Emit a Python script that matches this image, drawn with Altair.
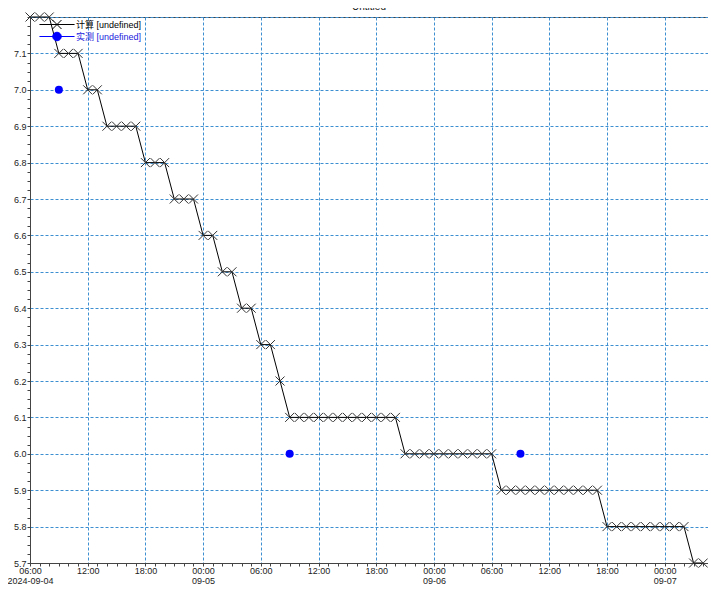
import altair as alt
import pandas as pd

# ---- data -------------------------------------------------------------
calc_name = "计算 [undefined]"
meas_name = "实测 [undefined]"

calc_times = [t.strftime("%Y-%m-%d %H:%M")
              for t in pd.date_range("2024-09-04 06:00", "2024-09-07 04:00", freq="h")]
calc_values = [
    7.2, 7.2, 7.2,
    7.1, 7.1, 7.1,
    7.0, 7.0,
    6.9, 6.9, 6.9, 6.9,
    6.8, 6.8, 6.8,
    6.7, 6.7, 6.7,
    6.6, 6.6,
    6.5, 6.5,
    6.4, 6.4,
    6.3, 6.3,
    6.2,
    6.1, 6.1, 6.1, 6.1, 6.1, 6.1, 6.1, 6.1, 6.1, 6.1, 6.1, 6.1,
    6.0, 6.0, 6.0, 6.0, 6.0, 6.0, 6.0, 6.0, 6.0, 6.0,
    5.9, 5.9, 5.9, 5.9, 5.9, 5.9, 5.9, 5.9, 5.9, 5.9, 5.9,
    5.8, 5.8, 5.8, 5.8, 5.8, 5.8, 5.8, 5.8, 5.8,
    5.7, 5.7,
]
meas_times = ["2024-09-04 09:00", "2024-09-05 09:00", "2024-09-06 09:00"]
meas_values = [7.0, 6.0, 6.0]

x_start, x_end = "2024-09-04 06:00", "2024-09-07 04:30"
y_tick_values = [round(5.7 + 0.025 * i, 3) for i in range(61)]

# time axis expressed as hours since 2024-09-04 00:00
ORIGIN = pd.Timestamp("2024-09-04 00:00")
def hours(ts):
    return (pd.Timestamp(ts) - ORIGIN) / pd.Timedelta(hours=1)

calc_df = pd.DataFrame({"h": [hours(t) for t in calc_times], "value": calc_values,
                        "series": calc_name})
meas_df = pd.DataFrame({"h": [hours(t) for t in meas_times], "value": meas_values,
                        "series": meas_name})
x_tick_values = list(range(int(hours(x_start)), int(hours(x_end)) + 1))

FONT = "Liberation Sans, Arial, Noto Sans CJK SC"
GRID = "#3d8fd1"
AXIS = "#444444"

x_scale = alt.Scale(domain=[hours(x_start), hours(x_end)], nice=False, zero=False)
y_scale = alt.Scale(domain=[5.7, 7.2], nice=False, zero=False)

hh = "(datum.value % 24 < 10 ? '0' : '') + (datum.value % 24) + ':00'"
dd = "'09-0' + (4 + floor(datum.value / 24))"
x_label_expr = (
    f"datum.value % 6 != 0 ? '' : "
    f"(datum.value == 6 ? [{hh}, '2024-09-04'] : "
    f"(datum.value % 24 == 0 ? [{hh}, {dd}] : {hh}))"
)
x_axis = alt.Axis(
    title=None,
    values=x_tick_values,
    labelExpr=x_label_expr,
    labelOverlap=False,
    labelFlush=False,
    labelFont=FONT,
    labelFontSize=9,
    labelColor="#222222",
    labelPadding=0,
    labelLineHeight=10,
    tickSize=3,
    tickColor=AXIS,
    domainColor=AXIS,
    grid=True,
    gridColor=GRID,
    gridDash=[3, 2],
    gridWidth=1,
    gridOpacity={"condition": {"test": "datum.value % 6 == 0", "value": 1}, "value": 0},
)

y_major_test = "abs(datum.value * 10 - round(datum.value * 10)) < 0.01"
y_axis = alt.Axis(
    title=None,
    values=y_tick_values,
    labelExpr=f"({y_major_test}) && datum.value < 7.15 ? format(datum.value, '.1f') : ''",
    labelOverlap=False,
    labelFlush=False,
    labelFont=FONT,
    labelFontSize=9,
    labelColor="#222222",
    labelPadding=1,
    tickSize=3,
    tickColor=AXIS,
    domainColor=AXIS,
    grid=True,
    gridColor=GRID,
    gridDash=[3, 2],
    gridWidth=1,
    gridOpacity={"condition": {"test": y_major_test, "value": 1}, "value": 0},
)

X_PATH = "M-1,-1L1,1M-1,1L1,-1"
LEG1_PATH = "M-3.9,0H3.9M-1,-1L1,1M-1,1L1,-1"
LEG2_PATH = "M-3.9,0H3.9M0.95,0A0.95,0.95 0 1,1 -0.95,0A0.95,0.95 0 1,1 0.95,0Z"

x_enc = alt.X("h:Q", scale=x_scale, axis=x_axis)
y_enc = alt.Y("value:Q", scale=y_scale, axis=y_axis)

line = alt.Chart(calc_df).mark_line(strokeWidth=1, clip=False).encode(
    x=x_enc,
    y=y_enc,
    stroke=alt.Stroke(
        "series:N",
        scale=alt.Scale(domain=[calc_name], range=["#000000"]),
        legend=alt.Legend(
            title=None, orient="none", legendX=22, legendY=2.5, padding=0,
            symbolType=LEG1_PATH, symbolSize=81, symbolStrokeWidth=1,
            labelColor="#000000", labelFont=FONT, labelFontSize=9, labelOffset=14,
        ),
    ),
)

crosses = alt.Chart(calc_df).mark_point(
    shape=X_PATH, size=81, filled=False, color="#333333", strokeWidth=1, opacity=1
).encode(x=x_enc, y=y_enc)

meas = alt.Chart(meas_df).mark_point(
    shape="circle", size=64, filled=True, opacity=1
).encode(
    x=x_enc,
    y=y_enc,
    fill=alt.Fill(
        "series:N",
        scale=alt.Scale(domain=[meas_name], range=["#0000ff"]),
        legend=alt.Legend(
            title=None, orient="none", legendX=22, legendY=14.5, padding=0,
            symbolType=LEG2_PATH, symbolSize=81, symbolStrokeWidth=1,
            symbolStrokeColor="#0000ff",
            labelColor="#2222dd", labelFont=FONT, labelFontSize=9, labelOffset=14,
        ),
    ),
)

chart = alt.layer(line, crosses, meas).resolve_scale(
    stroke="independent", fill="independent"
).properties(
    width=678,
    height=546,
    background="white",
    title=alt.TitleParams(
        "Untitled", fontSize=10, font=FONT, fontWeight="normal", color="#222222",
        offset=-9, baseline="alphabetic", anchor="middle", frame="group",
    ),
    autosize=alt.AutoSizeParams(type="none"),
    padding={"left": 22, "top": 9, "right": 0, "bottom": 22},
).configure_view(
    stroke=AXIS, strokeWidth=1
)

chart.save("out.html", embed_options={"renderer": "svg", "actions": False})
